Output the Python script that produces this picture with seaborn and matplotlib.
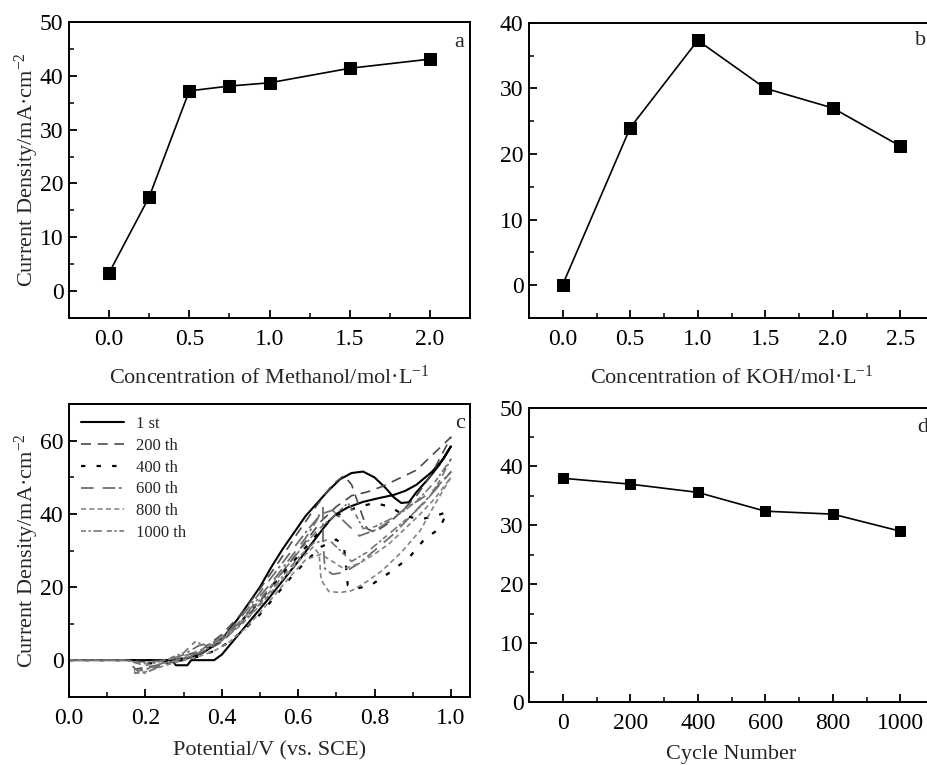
import numpy as np
import pandas as pd
import matplotlib
matplotlib.use("Agg")
import matplotlib.pyplot as plt
from matplotlib.ticker import MultipleLocator, FormatStrFormatter
import seaborn as sns

# ---------------- data ----------------
# (a) methanol concentration series
methanol_conc = [0.0, 0.25, 0.5, 0.75, 1.0, 1.5, 2.0]
methanol_j = [3.4, 17.5, 37.2, 38.1, 38.7, 41.4, 43.1]

# (b) KOH concentration series
koh_conc = [0.0, 0.5, 1.0, 1.5, 2.0, 2.5]
koh_j = [0.1, 24.0, 37.3, 30.0, 27.0, 21.2]

# (d) stability vs. cycle number
cycle_num = [0, 200, 400, 600, 800, 1000]
cycle_j = [38.0, 37.0, 35.6, 32.4, 31.9, 29.0]

# (c) cyclic voltammograms, potential (V) and current density (mA cm-2)
cv_labels = ["1 st", "200 th", "400 th", "600 th", "800 th", "1000 th"]

v_1st = [0.00, 0.10, 0.20, 0.27, 0.28, 0.31, 0.32, 0.38, 0.40, 0.44, 0.48, 0.52, 0.56,
         0.60, 0.64, 0.68, 0.70, 0.73, 0.77, 0.81, 0.85, 0.88, 0.91, 0.95, 0.98, 1.00,
         0.97, 0.94, 0.91, 0.89, 0.87, 0.85, 0.83, 0.80, 0.77, 0.74, 0.71, 0.68, 0.65,
         0.62, 0.59, 0.56, 0.53, 0.50, 0.47, 0.44, 0.41, 0.38, 0.35, 0.32, 0.29, 0.25]
j_1st = [0.0, 0.0, 0.0, 0.0, -1.4, -1.4, 0.0, 0.0, 1.5, 6.5, 11.5, 16.5, 21.8,
         27.0, 32.5, 38.0, 40.0, 41.8, 43.3, 44.3, 45.2, 46.3, 48.0, 51.5, 55.0, 58.5,
         53.5, 49.5, 46.0, 43.2, 43.0, 44.6, 47.0, 50.0, 51.6, 51.2, 49.5, 46.5, 43.0,
         39.5, 35.0, 30.5, 25.5, 20.0, 15.5, 11.0, 7.0, 4.0, 2.0, 0.8, 0.2, 0.0]

v_200 = [0.00, 0.15, 0.20, 0.25, 0.30, 0.35, 0.40, 0.45, 0.50, 0.55, 0.60, 0.65, 0.69,
         0.72, 0.74, 0.76, 0.78, 0.80, 0.83, 0.87, 0.91, 0.95, 1.00,
         0.95, 0.91, 0.86, 0.82, 0.78, 0.74, 0.70, 0.66, 0.62, 0.58, 0.54, 0.50, 0.45,
         0.40, 0.35, 0.30, 0.25, 0.20, 0.17]
j_200 = [0.0, 0.0, -0.5, 0.0, 1.0, 3.0, 7.0, 12.5, 19.5, 27.0, 35.0, 42.5, 48.0,
         50.5, 48.0, 42.0, 36.0, 35.0, 37.0, 40.5, 45.0, 51.0, 61.0,
         56.0, 52.0, 49.5, 47.5, 46.0, 45.0, 42.0, 38.0, 32.5, 27.0, 21.5, 16.0, 10.0,
         5.0, 2.0, 0.0, -1.0, -2.0, -2.5]

v_400 = [0.00, 0.20, 0.25, 0.30, 0.35, 0.40, 0.45, 0.50, 0.55, 0.60, 0.65, 0.69, 0.72,
         0.76, 0.80, 0.84, 0.88, 0.92, 0.96, 0.99,
         0.97, 0.93, 0.89, 0.84, 0.79, 0.75, 0.73, 0.725, 0.72, 0.70, 0.66, 0.62, 0.58,
         0.54, 0.50, 0.46, 0.42, 0.38, 0.34, 0.30, 0.25, 0.20]
j_400 = [0.0, 0.0, 0.0, 0.5, 2.5, 5.5, 10.5, 16.5, 22.5, 28.5, 34.5, 39.0, 40.5,
         42.0, 43.0, 42.0, 39.5, 38.5, 39.5, 40.5,
         36.0, 33.0, 28.0, 24.0, 20.5, 19.5, 20.5, 26.0, 31.0, 33.0, 31.0, 27.0, 22.5,
         17.5, 12.5, 8.5, 5.0, 2.5, 1.0, 0.0, -0.5, -1.0]

v_600 = [0.00, 0.15, 0.18, 0.22, 0.26, 0.30, 0.34, 0.38, 0.42, 0.46, 0.50, 0.54, 0.58,
         0.62, 0.65, 0.665, 0.665, 0.67, 0.69, 0.72, 0.76, 0.80, 0.85, 0.90, 0.95, 1.00,
         0.96, 0.92, 0.88, 0.84, 0.80, 0.76, 0.72, 0.69, 0.66, 0.62, 0.58, 0.54, 0.50,
         0.46, 0.42, 0.38, 0.34, 0.30, 0.25, 0.20, 0.17]
j_600 = [0.0, 0.0, -3.0, -2.0, 0.0, 1.5, 4.0, 5.0, 7.5, 12.0, 17.5, 22.5, 28.0,
         33.5, 38.5, 42.0, 33.0, 25.0, 23.5, 24.0, 26.5, 30.0, 34.5, 40.0, 45.5, 51.5,
         47.0, 44.0, 41.5, 38.0, 35.5, 34.0, 38.0, 41.0, 40.0, 35.0, 29.5, 24.0, 18.5,
         13.0, 8.0, 4.5, 2.0, 0.5, -1.0, -3.5, -3.5]

v_800 = [0.00, 0.15, 0.20, 0.25, 0.30, 0.35, 0.40, 0.45, 0.50, 0.55, 0.60, 0.64, 0.655,
         0.66, 0.68, 0.71, 0.74, 0.78, 0.82, 0.87, 0.92, 0.96, 1.00,
         0.96, 0.92, 0.88, 0.84, 0.80, 0.76, 0.72, 0.69, 0.66, 0.62, 0.58, 0.54, 0.50,
         0.46, 0.42, 0.38, 0.34, 0.30, 0.25, 0.21, 0.18]
j_800 = [0.0, 0.0, -1.0, 0.0, 1.0, 3.0, 5.5, 9.5, 15.0, 21.0, 27.0, 31.0, 29.0,
         22.0, 18.8, 18.5, 19.0, 21.5, 24.5, 29.5, 35.5, 43.0, 50.0,
         44.5, 40.0, 36.0, 32.0, 29.0, 26.5, 25.0, 27.0, 29.0, 27.5, 23.0, 18.0, 13.0,
         8.5, 5.0, 2.5, 1.0, 0.0, -1.5, -3.0, -3.5]

v_1000 = [0.00, 0.15, 0.20, 0.25, 0.30, 0.33, 0.36, 0.40, 0.45, 0.50, 0.55, 0.60, 0.65,
          0.70, 0.73, 0.75, 0.77, 0.80, 0.84, 0.88, 0.92, 0.96, 1.00,
          0.97, 0.94, 0.90, 0.86, 0.82, 0.78, 0.74, 0.71, 0.68, 0.64, 0.60, 0.56, 0.52,
          0.48, 0.44, 0.40, 0.36, 0.32, 0.28, 0.24, 0.20, 0.17]
j_1000 = [0.0, 0.0, -1.5, 0.0, 2.0, 5.0, 4.0, 6.0, 10.5, 16.5, 23.0, 29.5, 35.5,
          40.0, 43.0, 40.0, 36.0, 36.5, 38.5, 41.0, 44.5, 49.0, 55.0,
          49.0, 44.0, 40.0, 36.5, 33.0, 29.5, 27.0, 30.0, 33.0, 32.0, 28.0, 23.0, 18.0,
          13.0, 9.0, 5.5, 3.0, 1.0, 0.0, -1.0, -2.5, -3.0]

cv_v = [v_1st, v_200, v_400, v_600, v_800, v_1000]
cv_j = [j_1st, j_200, j_400, j_600, j_800, j_1000]

# ---------------- styling ----------------
cv_colors = ["#000000", "#4a4a4a", "#000000", "#6e6e6e", "#858585", "#757575"]
cv_styles = ["-", (0, (6, 4)), (0, (2, 5)), (0, (7, 5, 7, 2, 1.5, 2)),
             (0, (3, 2)), (0, (3, 1.5, 1.5, 1.5, 5, 3))]
cv_widths = [1.5, 1.2, 1.6, 1.3, 1.2, 1.2]

sns.set_theme(style="ticks")
plt.rcParams["font.family"] = ["Liberation Serif", "DejaVu Serif"]
plt.rcParams["mathtext.fontset"] = "custom"
plt.rcParams["mathtext.rm"] = "Liberation Serif"
plt.rcParams["mathtext.it"] = "Liberation Serif:italic"
plt.rcParams["axes.linewidth"] = 1.4
plt.rcParams["axes.edgecolor"] = "black"

TICK_FS = 17
LABEL_FS = 16
YLABEL = "Current Density/mA·cm$^{-2}$"

W, H = 928, 765
fig = plt.figure(figsize=(W / 100, H / 100), dpi=100)


def px_axes(left, top, right, bottom):
    return fig.add_axes([left / W, 1 - bottom / H, (right - left) / W, (bottom - top) / H])


ax_a = px_axes(69, 22, 470, 318)
ax_b = px_axes(529, 22.7, 934, 318)
ax_c = px_axes(69, 404.3, 470, 696.7)
ax_d = px_axes(529, 407.7, 934, 701.7)


def style_axes(ax):
    ax.tick_params(which="both", direction="in", top=False, right=False,
                   colors="black", labelsize=TICK_FS)
    ax.tick_params(which="major", length=6, width=1.3)
    ax.tick_params(which="minor", length=3.5, width=1.1)
    ax.tick_params(axis="x", pad=8)
    ax.tick_params(axis="y", pad=4)
    for s in ax.spines.values():
        s.set_visible(True)
        s.set_linewidth(1.4)
        s.set_color("black")
    ax.set_facecolor("white")


marker_kw = dict(marker="s", color="black", linewidth=1.2,
                 markeredgecolor="black", markerfacecolor="black")

# (a)
sns.lineplot(x=methanol_conc, y=methanol_j, ax=ax_a, markersize=8, **marker_kw)
ax_a.set_xlim(-0.25, 2.25)
ax_a.set_ylim(-5, 50)
ax_a.xaxis.set_major_locator(MultipleLocator(0.5))
ax_a.xaxis.set_minor_locator(MultipleLocator(0.25))
ax_a.xaxis.set_major_formatter(FormatStrFormatter("%.1f"))
ax_a.yaxis.set_major_locator(MultipleLocator(10))
ax_a.yaxis.set_minor_locator(MultipleLocator(5))
ax_a.set_xlabel("Concentration of Methanol/mol·L$^{-1}$", fontsize=LABEL_FS, labelpad=11)
ax_a.set_ylabel(YLABEL, fontsize=LABEL_FS, labelpad=-1)
ax_a.text(0.972, 0.932, "a", transform=ax_a.transAxes, fontsize=LABEL_FS, ha="center", va="center")
style_axes(ax_a)

# (b)
sns.lineplot(x=koh_conc, y=koh_j, ax=ax_b, markersize=8, **marker_kw)
ax_b.set_xlim(-0.25, 2.75)
ax_b.set_ylim(-5, 40)
ax_b.xaxis.set_major_locator(MultipleLocator(0.5))
ax_b.xaxis.set_minor_locator(MultipleLocator(0.25))
ax_b.xaxis.set_major_formatter(FormatStrFormatter("%.1f"))
ax_b.yaxis.set_major_locator(MultipleLocator(10))
ax_b.yaxis.set_minor_locator(MultipleLocator(5))
ax_b.set_xlabel("Concentration of KOH/mol·L$^{-1}$", fontsize=LABEL_FS, labelpad=11)
ax_b.set_ylabel("")
ax_b.text(0.968, 0.94, "b", transform=ax_b.transAxes, fontsize=LABEL_FS, ha="center", va="center")
style_axes(ax_b)

# (c)
for v, j, lab, col, ls, lw in zip(cv_v, cv_j, cv_labels, cv_colors, cv_styles, cv_widths):
    df = pd.DataFrame({"E": v, "j": j})
    sns.lineplot(data=df, x="E", y="j", ax=ax_c, sort=False, estimator=None,
                 color=col, linestyle=ls, linewidth=lw, label=lab)
ax_c.set_xlim(0, 1.05)
ax_c.set_ylim(-10, 70)
ax_c.xaxis.set_major_locator(MultipleLocator(0.2))
ax_c.xaxis.set_minor_locator(MultipleLocator(0.1))
ax_c.xaxis.set_major_formatter(FormatStrFormatter("%.1f"))
ax_c.yaxis.set_major_locator(MultipleLocator(20))
ax_c.yaxis.set_minor_locator(MultipleLocator(10))
ax_c.set_xlabel("Potential/V (vs. SCE)", fontsize=LABEL_FS, labelpad=9)
ax_c.set_ylabel(YLABEL, fontsize=LABEL_FS, labelpad=-1)
ax_c.text(0.975, 0.936, "c", transform=ax_c.transAxes, fontsize=LABEL_FS, ha="center", va="center")
ax_c.legend(loc="upper left", frameon=False, fontsize=12, handlelength=2.6,
            handletextpad=0.7, labelspacing=0.35, borderaxespad=0.3,
            bbox_to_anchor=(0.0, 1.0))
style_axes(ax_c)

# (d)
sns.lineplot(x=cycle_num, y=cycle_j, ax=ax_d, markersize=6.5, **marker_kw)
ax_d.set_xlim(-100, 1100)
ax_d.set_ylim(0, 50)
ax_d.xaxis.set_major_locator(MultipleLocator(200))
ax_d.xaxis.set_minor_locator(MultipleLocator(100))
ax_d.yaxis.set_major_locator(MultipleLocator(10))
ax_d.yaxis.set_minor_locator(MultipleLocator(5))
ax_d.set_xlabel("Cycle Number", fontsize=LABEL_FS, labelpad=8)
ax_d.set_ylabel("")
ax_d.text(0.973, 0.934, "d", transform=ax_d.transAxes, fontsize=LABEL_FS, ha="center", va="center")
style_axes(ax_d)

fig.savefig("out.png", dpi=100, facecolor="white")
